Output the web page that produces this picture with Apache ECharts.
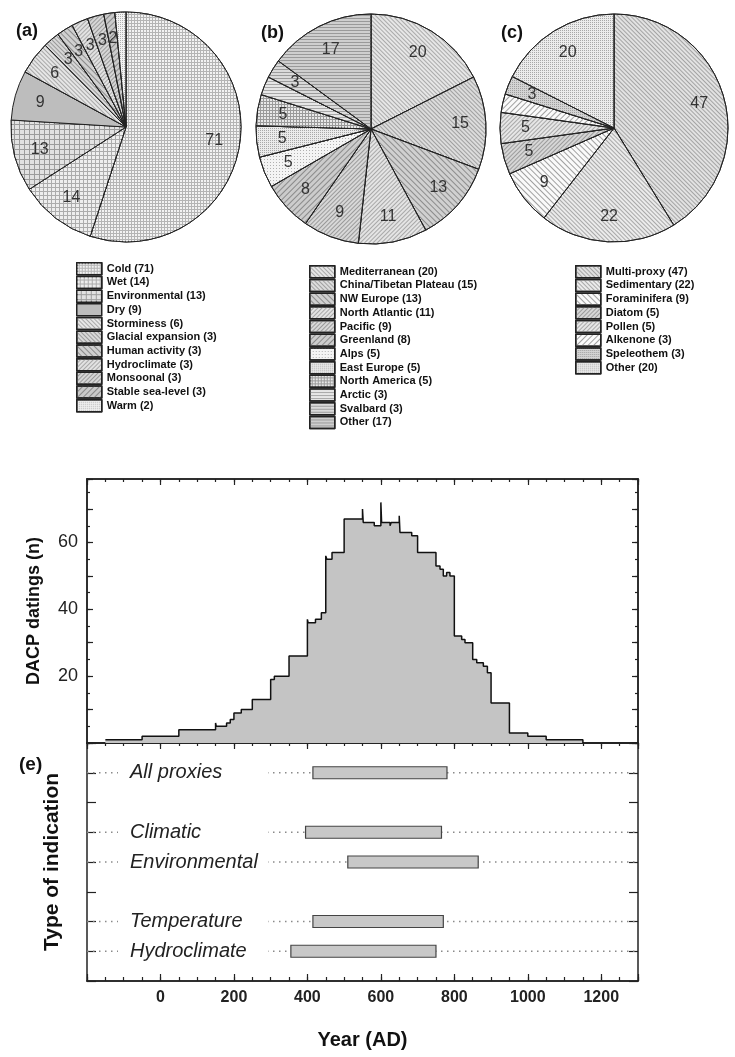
<!DOCTYPE html>
<html lang="en">
<head>
<meta charset="UTF-8">
<title>DACP datings</title>
<style>
  * { margin: 0; padding: 0; }
  body { background: #fff; }
  #chart { width: 735px; height: 1057px; }
</style>
</head>
<body>
<div id="chart"></div>
<script src="https://cdn.jsdelivr.net/npm/echarts@6/dist/echarts.min.js"></script>
<script>
// (a) type of indication
var aNames = ['Cold (71)', 'Wet (14)', 'Environmental (13)', 'Dry (9)', 'Storminess (6)', 'Glacial expansion (3)',
  'Human activity (3)', 'Hydroclimate (3)', 'Monsoonal (3)', 'Stable sea-level (3)', 'Warm (2)'];
var aValues = [71, 14, 13, 9, 6, 3, 3, 3, 3, 2, 2];
// (b) region
var bNames = ['Mediterranean (20)', 'China/Tibetan Plateau (15)', 'NW Europe (13)', 'North Atlantic (11)', 'Pacific (9)',
  'Greenland (8)', 'Alps (5)', 'East Europe (5)', 'North America (5)', 'Arctic (3)', 'Svalbard (3)', 'Other (17)'];
var bValues = [20, 15, 13, 11, 9, 8, 5, 5, 5, 3, 3, 17];
// (c) archive
var cNames = ['Multi-proxy (47)', 'Sedimentary (22)', 'Foraminifera (9)', 'Diatom (5)', 'Pollen (5)', 'Alkenone (3)',
  'Speleothem (3)', 'Other (20)'];
var cValues = [47, 22, 9, 5, 5, 3, 3, 20];

// (d) number of datings, value holds from year until next year
var dYears = [-150, -50, 50, 150, 152, 180, 190, 200, 220, 250, 300, 310, 350, 400, 402, 422, 438, 450, 453, 467, 500,
  550, 552, 582, 600, 602, 625, 628, 650, 652, 684, 700, 750, 761, 770, 779, 788, 800, 820, 829, 850, 861, 879, 890,
  900, 950, 1000, 1050, 1150];
var dCounts = [1, 2, 4, 6, 5, 6, 7, 9, 10, 13, 19, 20, 26, 37, 36, 37, 39, 56, 55, 57, 67,
  70, 66, 65, 72, 66, 65, 66, 68, 63, 62, 57, 53, 52, 50, 51, 50, 32, 31, 30, 25, 24, 23, 21,
  12, 3, 2, 1, 0];
var dTickLabels = [20, 40, 60];

// (e) periods per type of indication
var eCats = ['All proxies', 'Climatic', 'Environmental', 'Temperature', 'Hydroclimate'];
var eRows = [7, 5, 4, 2, 1];
var eStart = [415, 395, 510, 415, 355];
var eEnd = [780, 765, 865, 770, 750];
var xTickLabels = [0, 200, 400, 600, 800, 1000, 1200];

var FONT = 'Liberation Sans, Arial, sans-serif';
var SL = Math.PI / 4, BS = -Math.PI / 4;

function hatch(rot, gap, bg, fg) {
  return { color: bg, decal: { symbol: 'rect', symbolSize: 1, dashArrayX: [1, 0], dashArrayY: [1, gap], rotation: rot, color: fg } };
}
function grid(size, bg, fg) {
  return { color: fg, decal: { symbol: 'rect', symbolSize: 1, dashArrayX: [size, 1], dashArrayY: [size, 1], color: bg } };
}
function dots(gap, bg, fg) {
  return { color: bg, decal: { symbol: 'rect', symbolSize: 1, dashArrayX: [1, gap], dashArrayY: [1, gap], color: fg } };
}
function plain(bg) { return { color: bg }; }

var aStyles = [
  grid(2, '#f2f2f2', '#b4b4b4'), grid(3, '#eeeeee', '#acacac'), grid(4, '#e2e2e2', '#9c9c9c'), plain('#bdbdbd'),
  hatch(SL, 2, '#e6e6e6', '#a8a8a8'), hatch(SL, 2, '#d8d8d8', '#9a9a9a'), hatch(SL, 3, '#d0d0d0', '#8a8a8a'),
  hatch(BS, 2, '#e2e2e2', '#a8a8a8'), hatch(BS, 2, '#d6d6d6', '#999999'), hatch(BS, 3, '#cacaca', '#888888'),
  dots(1, '#f2f2f2', '#b0b0b0')
];
var bStyles = [
  hatch(SL, 2, '#e6e6e6', '#aaaaaa'), hatch(SL, 2, '#dcdcdc', '#a0a0a0'), hatch(SL, 3, '#d0d0d0', '#8c8c8c'),
  hatch(BS, 2, '#e4e4e4', '#a8a8a8'), hatch(BS, 2, '#d8d8d8', '#9a9a9a'), hatch(BS, 3, '#cccccc', '#8a8a8a'),
  dots(2, '#f4f4f4', '#b0b0b0'), dots(1, '#ebebeb', '#a8a8a8'), grid(2, '#e8e8e8', '#9a9a9a'),
  hatch(0, 2, '#e6e6e6', '#a8a8a8'), hatch(0, 2, '#dadada', '#9c9c9c'), hatch(0, 2, '#cfcfcf', '#9a9a9a')
];
var cStyles = [
  hatch(SL, 2, '#e2e2e2', '#a4a4a4'), hatch(SL, 2, '#ebebeb', '#a8a8a8'), hatch(SL, 3, '#fafafa', '#a0a0a0'),
  hatch(BS, 2, '#d6d6d6', '#9c9c9c'), hatch(BS, 2, '#e6e6e6', '#a8a8a8'), hatch(BS, 3, '#fafafa', '#a0a0a0'),
  dots(1, '#d4d4d4', '#a0a0a0'), dots(1, '#ececec', '#a8a8a8')
];

function pieSeries(names, values, styles, center, r) {
  var shapes = names.map(function (n, i) { return { name: n, value: values[i], itemStyle: styles[i] }; });
  var plainData = names.map(function (n, i) { return { name: n, value: values[i] }; });
  return [{
    type: 'pie', center: center, radius: r, startAngle: 90, clockwise: true, silent: true,
    label: { show: false }, labelLine: { show: false }, emphasis: { disabled: true },
    itemStyle: { borderColor: '#222', borderWidth: 1 },
    data: shapes
  }, {
    type: 'pie', center: center, radius: [r * 0.5, r], startAngle: 90, clockwise: true, silent: true,
    labelLine: { show: false }, emphasis: { disabled: true },
    itemStyle: { color: 'rgba(0,0,0,0)', borderWidth: 0 },
    label: { show: true, position: 'inside', formatter: '{c}', color: '#333', fontSize: 16, fontFamily: FONT },
    data: plainData
  }];
}

function legendBox(names, left, top) {
  return {
    data: names, left: left, top: top, orient: 'vertical', icon: 'rect', selectedMode: false,
    itemWidth: 25, itemHeight: 12, itemGap: 0.2,
    itemStyle: { borderColor: '#222', borderWidth: 1.5 },
    textStyle: { fontSize: 11, fontWeight: 'bold', fontFamily: FONT, color: '#111', lineHeight: 12 }
  };
}

var tickStyle = { color: '#222', width: 1.2 };
var lineStyle = { color: '#222', width: 1.5 };

function xAx(grid, pos, interval, len, labels, extra) {
  var o = {
    type: 'value', gridIndex: grid, position: pos, min: -200, max: 1300, interval: interval,
    splitLine: { show: false }, axisLine: { show: true, onZero: false, lineStyle: lineStyle },
    axisTick: { show: len > 0, inside: true, length: len, lineStyle: tickStyle },
    axisLabel: { show: false }
  };
  if (labels) {
    o.axisLabel = {
      show: true, margin: 9, fontSize: 16, fontWeight: 'bold', fontFamily: FONT, color: '#222',
      formatter: function (v) { return xTickLabels.indexOf(v) >= 0 ? String(v) : ''; }
    };
  }
  for (var k in extra) o[k] = extra[k];
  return o;
}
function yAx(grid, pos, min, max, interval, len, extra) {
  var o = {
    type: 'value', gridIndex: grid, position: pos, min: min, max: max, interval: interval,
    splitLine: { show: false }, axisLine: { show: true, onZero: false, lineStyle: lineStyle },
    axisTick: { show: true, inside: true, length: len, lineStyle: tickStyle },
    axisLabel: { show: false }
  };
  for (var k in extra) o[k] = extra[k];
  return o;
}

var chart = echarts.init(document.getElementById('chart'), null, { renderer: 'canvas' });

var series = []
  .concat(pieSeries(aNames, aValues, aStyles, [126, 127], 115))
  .concat(pieSeries(bNames, bValues, bStyles, [371, 129], 115))
  .concat(pieSeries(cNames, cValues, cStyles, [614, 128], 114));

series.push({
  type: 'line', xAxisIndex: 0, yAxisIndex: 0, step: 'end', symbol: 'none', silent: true,
  lineStyle: { color: '#111', width: 1.5 }, areaStyle: { color: '#c4c4c4', opacity: 1 },
  data: dYears.map(function (y, i) { return [y, dCounts[i]]; })
});

// panel (e): dotted guide line, period bar and italic label for every row
series.push({
  type: 'custom', xAxisIndex: 5, yAxisIndex: 2, silent: true, z: 2,
  data: eRows.map(function (r, i) { return [eStart[i], eEnd[i], r, i]; }),
  renderItem: function (params, api) {
    var cs = params.coordSys;
    var p0 = api.coord([api.value(0), api.value(2)]);
    var p1 = api.coord([api.value(1), api.value(2)]);
    var boxX = cs.x + 31;
    return {
      type: 'group', children: [
        { type: 'line', shape: { x1: cs.x, y1: p0[1], x2: cs.x + cs.width, y2: p0[1] },
          style: { stroke: '#8a8a8a', lineWidth: 1.5, lineDash: [1.5, 4.5] } },
        { type: 'rect', shape: { x: boxX, y: p0[1] - 11, width: 150, height: 22 },
          style: { fill: '#fff' } },
        { type: 'text', x: boxX + 12, y: p0[1],
          style: { text: eCats[api.value(3)], fill: '#222', font: 'italic 20px ' + FONT, verticalAlign: 'middle', align: 'left' } },
        { type: 'rect', shape: { x: p0[0], y: p0[1] - 6, width: p1[0] - p0[0], height: 12 },
          style: { fill: '#c8c8c8', stroke: '#444', lineWidth: 1.2 } }
      ]
    };
  }
});

chart.setOption({
  animation: false,
  backgroundColor: '#fff',
  title: [
    { text: '(a)', left: 11, top: 17, textStyle: { fontSize: 18, fontWeight: 'bold', fontFamily: FONT, color: '#111' } },
    { text: '(b)', left: 256, top: 19, textStyle: { fontSize: 18, fontWeight: 'bold', fontFamily: FONT, color: '#111' } },
    { text: '(c)', left: 496, top: 19, textStyle: { fontSize: 18, fontWeight: 'bold', fontFamily: FONT, color: '#111' } },
    { text: '(e)', left: 14, top: 750, textStyle: { fontSize: 19, fontWeight: 'bold', fontFamily: FONT, color: '#111' } }
  ],
  legend: [legendBox(aNames, 71, 257), legendBox(bNames, 304, 260), legendBox(cNames, 570, 260)],
  grid: [
    { left: 87, right: 97, top: 479, height: 264, outerBoundsMode: 'none' },
    { left: 87, right: 97, top: 743, height: 238, outerBoundsMode: 'none' }
  ],
  xAxis: [
    xAx(0, 'bottom', 200, 0, false, {}),
    xAx(0, 'top', 50, 3, false, {}),
    xAx(0, 'top', 200, 6, false, {}),
    xAx(1, 'top', 50, 3, false, {}),
    xAx(1, 'top', 200, 6, false, {}),
    xAx(1, 'bottom', 200, 7, true, {
      name: 'Year (AD)', nameLocation: 'middle', nameGap: 49,
      nameTextStyle: { fontSize: 20, fontWeight: 'bold', fontFamily: FONT, color: '#111' }
    }),
    xAx(1, 'bottom', 50, 4, false, {})
  ],
  yAxis: [
    yAx(0, 'left', 0, 79, 10, 6, {
      axisLabel: {
        show: true, margin: 9, fontSize: 18, fontFamily: FONT, color: '#222',
        formatter: function (v) { return dTickLabels.indexOf(v) >= 0 ? String(v) : ''; }
      },
      name: 'DACP datings (n)', nameLocation: 'middle', nameGap: 44,
      nameTextStyle: { fontSize: 18, fontWeight: 'bold', fontFamily: FONT, color: '#111' }
    }),
    yAx(0, 'left', 0, 79, 5, 3, {}),
    yAx(1, 'left', 0, 8, 1, 9, {
      name: 'Type of indication', nameLocation: 'middle', nameGap: 24,
      nameTextStyle: { fontSize: 21, fontWeight: 'bold', fontFamily: FONT, color: '#111' }
    }),
    yAx(1, 'right', 0, 8, 1, 9, {}),
    yAx(0, 'right', 0, 79, 10, 6, {}),
    yAx(0, 'right', 0, 79, 5, 3, {})
  ],
  series: series
});
</script>
</body>
</html>
